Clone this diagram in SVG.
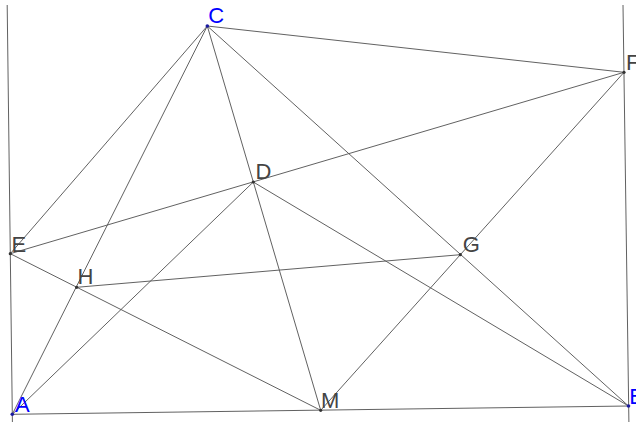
<svg xmlns="http://www.w3.org/2000/svg" width="636" height="422" viewBox="0 0 636 422">
<style>
.ln{stroke:#595959;stroke-width:0.95;fill:none}
.dot{fill:#333}
.bdot{fill:#1a1aa0}
.lbl{font-family:"Liberation Sans",Arial,sans-serif;font-size:22px;fill:#444}
.blbl{font-family:"Liberation Sans",Arial,sans-serif;font-size:22px;fill:#0000ff}
</style>
<rect width="636" height="422" fill="#fff"/>
<g id="connectors">
<line class="ln" x1="7.2" y1="5" x2="12.4" y2="422"/>
<line class="ln" x1="623" y1="5" x2="628.9" y2="422"/>
<line class="ln" x1="12.3" y1="414.3" x2="628.5" y2="406"/>
<line class="ln" x1="207.3" y1="26" x2="624" y2="72.3"/>
<line class="ln" x1="207.3" y1="26" x2="10.3" y2="253.7"/>
<line class="ln" x1="207.3" y1="26" x2="12.3" y2="414.3"/>
<line class="ln" x1="207.3" y1="26" x2="320.7" y2="410.3"/>
<line class="ln" x1="207.3" y1="26" x2="628.5" y2="406"/>
<line class="ln" x1="10.3" y1="253.7" x2="624" y2="72.3"/>
<line class="ln" x1="10.3" y1="253.7" x2="320.7" y2="410.3"/>
<line class="ln" x1="253.3" y1="182" x2="12.3" y2="414.3"/>
<line class="ln" x1="253.3" y1="182" x2="628.5" y2="406"/>
<line class="ln" x1="76.7" y1="287.3" x2="460.3" y2="254.7"/>
<line class="ln" x1="624" y1="72.3" x2="320.7" y2="410.3"/>
</g>
<g id="A"><circle class="bdot" cx="12.3" cy="414.3" r="1.8"/><text class="blbl" x="15" y="412.3">A</text></g>
<g id="B"><circle class="bdot" cx="628.5" cy="406" r="1.8"/><text class="blbl" x="629.3" y="403.5">B</text></g>
<g id="C"><circle class="bdot" cx="207.3" cy="26" r="1.8"/><text class="blbl" x="208.3" y="23.3">C</text></g>
<g id="D"><circle class="dot" cx="253.3" cy="182" r="1.6"/><text class="lbl" x="255.6" y="178.5">D</text></g>
<g id="E"><circle class="dot" cx="10.3" cy="253.7" r="1.6"/><text class="lbl" x="11.6" y="252">E</text></g>
<g id="F"><circle class="dot" cx="624" cy="72.3" r="1.6"/><text class="lbl" x="626" y="70">F</text></g>
<g id="G"><circle class="dot" cx="460.3" cy="254.7" r="1.6"/><text class="lbl" x="462.7" y="251.7">G</text></g>
<g id="H"><circle class="dot" cx="76.7" cy="287.3" r="1.6"/><text class="lbl" x="77.6" y="284.3">H</text></g>
<g id="M"><circle class="dot" cx="320.7" cy="410.3" r="1.6"/><text class="lbl" x="321" y="407.7">M</text></g>
</svg>
